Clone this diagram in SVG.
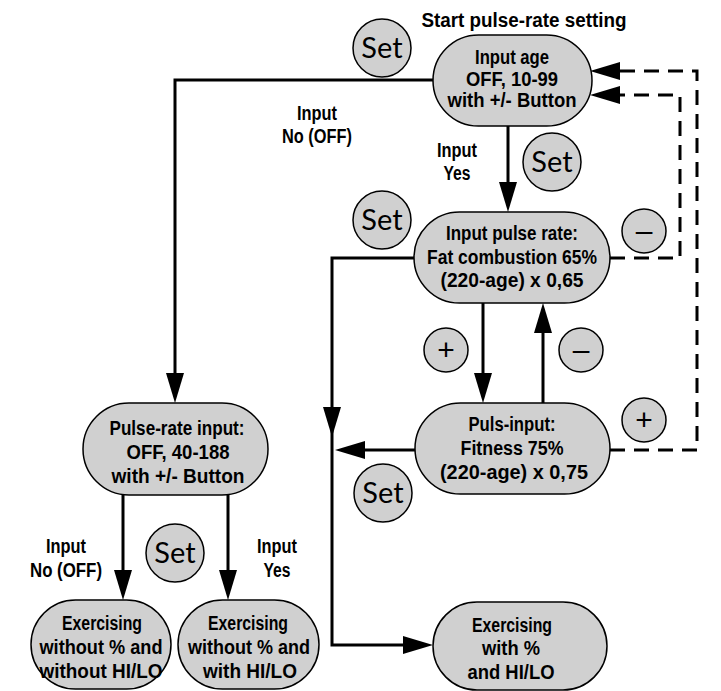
<svg xmlns="http://www.w3.org/2000/svg" width="721" height="691" viewBox="0 0 721 691">
<defs>
<style>
.bg{fill:#fff}
.node{fill:#d0d0d0;stroke:#000;stroke-width:1.5}
.t{font-family:"Liberation Sans",Arial,sans-serif;font-weight:bold;font-size:20px;text-anchor:middle;fill:#000}
.s{font-family:Lato,"Liberation Sans",sans-serif;font-size:29px;text-anchor:middle;fill:#000}
.pm{font-family:"Liberation Sans",Arial,sans-serif;font-size:30px;text-anchor:middle;fill:#000}
.ln{fill:none;stroke:#000;stroke-width:3}
.dash{stroke-dasharray:15 9}
</style>
<marker id="ah" markerUnits="userSpaceOnUse" markerWidth="30" markerHeight="18" refX="20" refY="9" orient="auto" viewBox="0 0 30 18"><path d="M0,0 L30,9 L0,18 z" fill="#000"/></marker>
</defs>
<rect class="bg" x="0" y="0" width="721" height="691"/>

<g id="connectors">
<path class="ln" d="M433,80 H175 V393" marker-end="url(#ah)"/>
<path class="ln" d="M508,126 V202" marker-end="url(#ah)"/>
<path class="ln" d="M483,303 V393" marker-end="url(#ah)"/>
<path class="ln" d="M543,403 V313" marker-end="url(#ah)"/>
<path class="ln" d="M414,258 H332 V427" marker-end="url(#ah)"/>
<path class="ln" d="M332,425 V645 H423" marker-end="url(#ah)"/>
<path class="ln" d="M415,450 H345" marker-end="url(#ah)"/>
<path class="ln dash" d="M610,258 H680 V95 H600" marker-end="url(#ah)"/>
<path class="ln dash" d="M610,450 H697 V71 H600" marker-end="url(#ah)"/>
<path class="ln" d="M123,495 V590" marker-end="url(#ah)"/>
<path class="ln" d="M228,495 V590" marker-end="url(#ah)"/>
</g>

<g id="labels">
<text class="t" x="524" y="27" font-size="18" textLength="205" lengthAdjust="spacingAndGlyphs">Start pulse-rate setting</text>
<text class="t" x="317" y="120" textLength="40" lengthAdjust="spacingAndGlyphs">Input</text>
<text class="t" x="317" y="143" textLength="70" lengthAdjust="spacingAndGlyphs">No (OFF)</text>
<text class="t" x="457" y="157" textLength="40" lengthAdjust="spacingAndGlyphs">Input</text>
<text class="t" x="457" y="180" textLength="27" lengthAdjust="spacingAndGlyphs">Yes</text>
<text class="t" x="66" y="553" textLength="40" lengthAdjust="spacingAndGlyphs">Input</text>
<text class="t" x="66" y="577" textLength="72" lengthAdjust="spacingAndGlyphs">No (OFF)</text>
<text class="t" x="277" y="553" textLength="40" lengthAdjust="spacingAndGlyphs">Input</text>
<text class="t" x="277" y="577" textLength="27" lengthAdjust="spacingAndGlyphs">Yes</text>
</g>

<g id="set1"><circle class="node" cx="382" cy="48" r="29"/><text class="s" x="382" y="58">Set</text></g>
<g id="set2"><circle class="node" cx="552" cy="162" r="29"/><text class="s" x="552" y="172">Set</text></g>
<g id="set3"><circle class="node" cx="382" cy="220" r="29"/><text class="s" x="382" y="230">Set</text></g>
<g id="set4"><circle class="node" cx="383" cy="493" r="29"/><text class="s" x="383" y="503">Set</text></g>
<g id="set5"><circle class="node" cx="175" cy="553" r="29"/><text class="s" x="175" y="563">Set</text></g>

<g id="minus1"><circle class="node" cx="644" cy="231" r="22"/><text class="pm" x="644" y="241">–</text></g>
<g id="plus1"><circle class="node" cx="446" cy="350" r="22"/><text class="pm" x="446" y="360">+</text></g>
<g id="minus2"><circle class="node" cx="581" cy="350" r="22"/><text class="pm" x="581" y="360">–</text></g>
<g id="plus2"><circle class="node" cx="644" cy="420" r="22"/><text class="pm" x="644" y="430">+</text></g>

<g id="input-age">
<rect class="node" x="433" y="35" width="159" height="91" rx="45.5"/>
<text class="t" x="512" y="64" textLength="74" lengthAdjust="spacingAndGlyphs">Input age</text>
<text class="t" x="512" y="86" textLength="92" lengthAdjust="spacingAndGlyphs">OFF, 10-99</text>
<text class="t" x="512" y="107" textLength="129" lengthAdjust="spacingAndGlyphs">with +/- Button</text>
</g>

<g id="input-pulse-rate">
<rect class="node" x="414" y="212" width="196" height="91" rx="45.5"/>
<text class="t" x="512" y="240" textLength="132" lengthAdjust="spacingAndGlyphs">Input pulse rate:</text>
<text class="t" x="512" y="264" textLength="170" lengthAdjust="spacingAndGlyphs">Fat combustion 65%</text>
<text class="t" x="512" y="287" textLength="143" lengthAdjust="spacingAndGlyphs">(220-age) x 0,65</text>
</g>

<g id="puls-input">
<rect class="node" x="415" y="403" width="195" height="91" rx="45.5"/>
<text class="t" x="512" y="431" textLength="87" lengthAdjust="spacingAndGlyphs">Puls-input:</text>
<text class="t" x="512" y="455" textLength="103" lengthAdjust="spacingAndGlyphs">Fitness 75%</text>
<text class="t" x="514" y="479" textLength="148" lengthAdjust="spacingAndGlyphs">(220-age) x 0,75</text>
</g>

<g id="pulse-rate-input">
<rect class="node" x="83" y="403" width="185" height="92" rx="46"/>
<text class="t" x="177" y="435" textLength="135" lengthAdjust="spacingAndGlyphs">Pulse-rate input:</text>
<text class="t" x="178" y="459" textLength="103" lengthAdjust="spacingAndGlyphs">OFF, 40-188</text>
<text class="t" x="178" y="483" textLength="133" lengthAdjust="spacingAndGlyphs">with +/- Button</text>
</g>

<g id="ex-with">
<rect class="node" x="433" y="602" width="174" height="88" rx="44"/>
<text class="t" x="512" y="632" textLength="80" lengthAdjust="spacingAndGlyphs">Exercising</text>
<text class="t" x="511" y="655" textLength="58" lengthAdjust="spacingAndGlyphs">with %</text>
<text class="t" x="511" y="679" textLength="87" lengthAdjust="spacingAndGlyphs">and HI/LO</text>
</g>

<g id="ex-no-hilo">
<rect class="node" x="31" y="600" width="140" height="89" rx="44.5"/>
<text class="t" x="102" y="630" textLength="80" lengthAdjust="spacingAndGlyphs">Exercising</text>
<text class="t" x="101" y="654" textLength="123" lengthAdjust="spacingAndGlyphs">without % and</text>
<text class="t" x="101" y="678" textLength="123" lengthAdjust="spacingAndGlyphs">without HI/LO</text>
</g>

<g id="ex-hilo">
<rect class="node" x="178" y="600" width="141" height="89" rx="44.5"/>
<text class="t" x="248" y="630" textLength="80" lengthAdjust="spacingAndGlyphs">Exercising</text>
<text class="t" x="249" y="654" textLength="122" lengthAdjust="spacingAndGlyphs">without % and</text>
<text class="t" x="250" y="678" textLength="94" lengthAdjust="spacingAndGlyphs">with HI/LO</text>
</g>
</svg>
